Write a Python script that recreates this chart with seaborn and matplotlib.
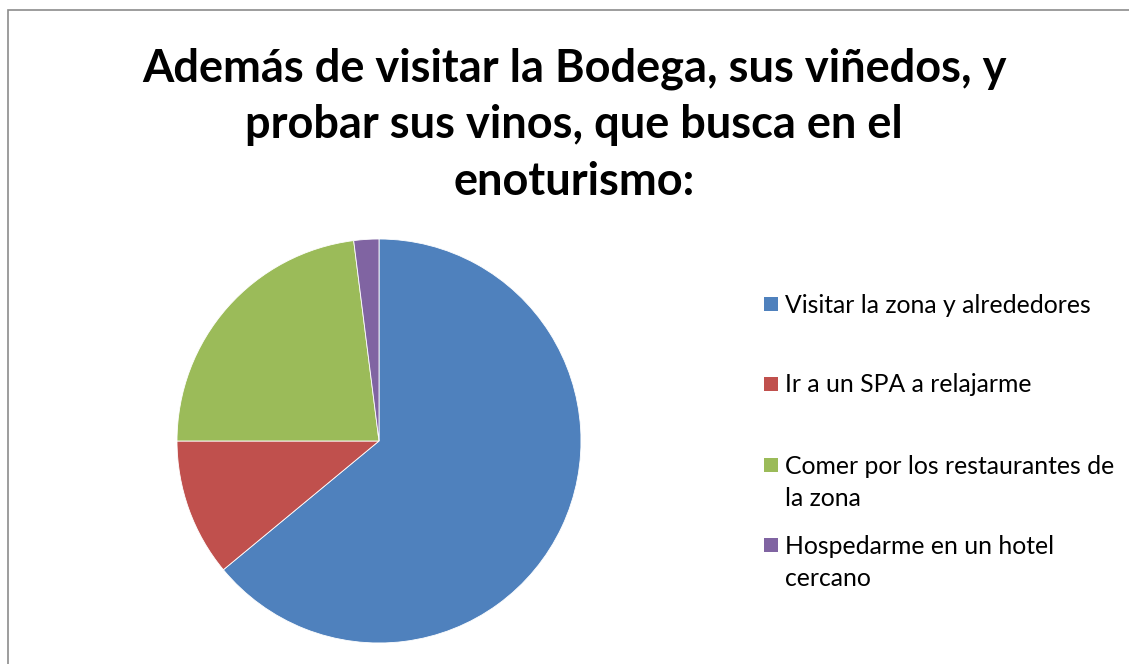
import matplotlib
matplotlib.use("Agg")
import matplotlib.pyplot as plt
from matplotlib.patches import Rectangle
import seaborn as sns

title = "Además de visitar la Bodega, sus viñedos, y\nprobar sus vinos, que busca en el\nenoturismo:"
categories = [
    "Visitar la zona y alrededores",
    "Ir a un SPA a relajarme",
    "Comer por los restaurantes de\nla zona",
    "Hospedarme en un hotel\ncercano",
]
values = [64, 11, 23, 2]
colors = ["#4F81BD", "#C0504D", "#9BBB59", "#8064A2"]

sns.set_theme(style="white")
plt.rcParams["font.family"] = ["Lato", "DejaVu Sans"]

W, H = 1129, 664
fig = plt.figure(figsize=(W / 100, H / 100), dpi=100)
fig.patch.set_facecolor("white")

# chart frame
fig.add_artist(Rectangle((7.5 / W, -0.01), 1.2, 1 - 9.5 / H + 0.01, transform=fig.transFigure,
                         fill=False, edgecolor="#8c8c8c", linewidth=1.2))

cx, cy, r = 379, 441, 202
ax = fig.add_axes([(cx - r) / W, (H - cy - r) / H, 2 * r / W, 2 * r / H])
ax.pie(values, colors=colors, startangle=90, counterclock=False, radius=1,
       wedgeprops=dict(edgecolor="white", linewidth=0.6))
ax.set_xlim(-1, 1)
ax.set_ylim(-1, 1)
ax.set_aspect("auto")
ax.axis("off")

fig.text(574 / W, 1 - 47 / H, title, ha="center", va="top", fontsize=32.5,
         fontweight="bold", color="black", linespacing=1.43)

# legend
first_line_y = [304, 384, 465, 545]
for i, (lab, col) in enumerate(zip(categories, colors)):
    y = first_line_y[i]
    fig.add_artist(Rectangle((764 / W, 1 - (y + 7) / H), 14 / W, 14 / H,
                             transform=fig.transFigure, facecolor=col, edgecolor="none"))
    fig.text(785 / W, 1 - (y - 10.5) / H, lab, ha="left", va="top", fontsize=17.8,
             color="black", linespacing=1.5)

fig.savefig("out.png", dpi=100)
